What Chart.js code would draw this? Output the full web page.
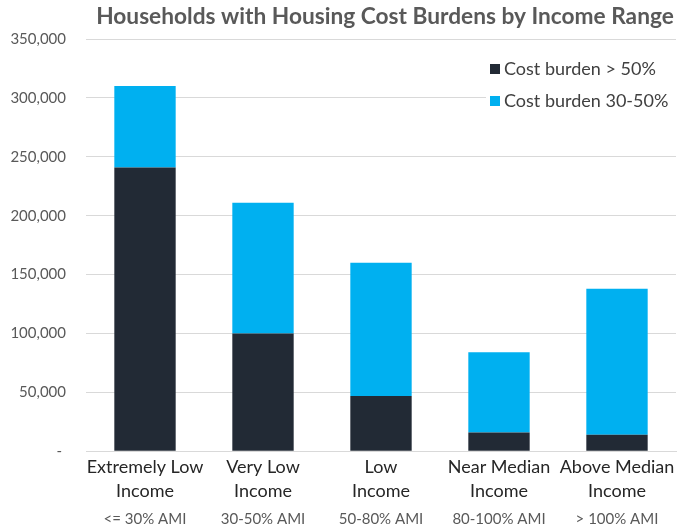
<!DOCTYPE html>
<html>
<head>
<meta charset="utf-8">
<script src="https://cdn.jsdelivr.net/npm/chart.js@4.4.1/dist/chart.umd.min.js"></script>
<style>
    html, body { margin: 0; padding: 0; background: #fff; }
    #chart-wrap { width: 678px; height: 532px; position: relative; }
</style>
</head>
<body>
<div id="chart-wrap"><canvas id="burden-chart"></canvas></div>
<script>
const chartTitle = 'Households with Housing Cost Burdens by Income Range';

// income groups (two lines each) and their AMI ranges
const incomeRanges = [
    ['Extremely Low', 'Income'],
    ['Very Low', 'Income'],
    ['Low', 'Income'],
    ['Near Median', 'Income'],
    ['Above Median', 'Income']
];
const amiRanges = ['<= 30% AMI', '30-50% AMI', '50-80% AMI', '80-100% AMI', '> 100% AMI'];

// households per group
const severeBurden = [241000, 100000, 47000, 16000, 14000];     // cost burden > 50%
const moderateBurden = [69000, 111000, 113000, 68000, 124000];  // cost burden 30-50%

const yMax = 350000;
const yStep = 50000;

const FONT = 'Lato, "Open Sans", sans-serif';

// title centred over the plot area instead of the whole canvas
const titlePlugin = {
    id: 'plotTitle',
    afterDraw(chart) {
        const { ctx, chartArea } = chart;
        ctx.save();
        ctx.font = 'bold 22.7px ' + FONT;
        ctx.fillStyle = '#595959';
        ctx.textAlign = 'center';
        ctx.textBaseline = 'middle';
        ctx.fillText(chartTitle, (chartArea.left + chartArea.right) / 2 + 4, 17);
        ctx.restore();
    }
};

// vertical legend sitting inside the top right of the plot
const insideLegend = {
    id: 'insideLegend',
    afterDraw(chart) {
        const { ctx, chartArea } = chart;
        const x = chartArea.right - 186;
        let y = chartArea.top + 30;
        ctx.save();
        ctx.font = '18px ' + FONT;
        ctx.textBaseline = 'middle';
        chart.data.datasets.forEach(ds => {
            ctx.fillStyle = '#ffffff';
            ctx.fillRect(x - 4, y - 12, 190, 24);
            ctx.fillStyle = ds.backgroundColor;
            ctx.fillRect(x, y - 5, 10, 10);
            ctx.fillStyle = '#404040';
            ctx.fillText(ds.label, x + 14, y);
            y += 32;
        });
        ctx.restore();
    }
};

const ctx = document.getElementById('burden-chart').getContext('2d');

new Chart(ctx, {
    type: 'bar',
    data: {
        labels: incomeRanges,
        datasets: [{
            label: 'Cost burden > 50%',
            data: severeBurden,
            backgroundColor: '#222a35',
            borderWidth: 0
        }, {
            label: 'Cost burden 30-50%',
            data: moderateBurden,
            backgroundColor: '#00b0f0',
            borderWidth: 0
        }]
    },
    options: {
        responsive: true,
        maintainAspectRatio: false,
        animation: false,
        datasets: {
            bar: {
                categoryPercentage: 1.0,
                barPercentage: 0.52
            }
        },
        layout: {
            padding: { top: 39, right: 2, bottom: 0, left: 0 }
        },
        scales: {
            x: {
                stacked: true,
                grid: { display: false, drawTicks: false },
                border: { display: true, color: '#d9d9d9' },
                ticks: {
                    color: '#262626',
                    font: { family: FONT, size: 18, lineHeight: 1.38 },
                    padding: 3,
                    maxRotation: 0,
                    autoSkip: false
                }
            },
            x2: {
                type: 'category',
                position: 'bottom',
                labels: amiRanges,
                offset: true,
                weight: 1,
                grid: { display: false, drawTicks: false },
                border: { display: false },
                ticks: {
                    color: '#595959',
                    font: { family: FONT, size: 15, lineHeight: 1.0 },
                    padding: 5,
                    maxRotation: 0,
                    autoSkip: false
                }
            },
            y: {
                stacked: true,
                min: 0,
                max: yMax,
                afterFit(scale) { scale.width = 86; },
                grid: { color: '#d9d9d9', drawTicks: false },
                border: { display: false },
                ticks: {
                    stepSize: yStep,
                    padding: 20,
                    color: '#595959',
                    font: { family: FONT, size: 15 },
                    callback: v => v === 0 ? '- ' : v.toLocaleString('en-US')
                }
            }
        },
        plugins: {
            legend: { display: false },
            title: { display: false },
            tooltip: { enabled: false }
        }
    },
    plugins: [titlePlugin, insideLegend]
});
</script>
</body>
</html>
